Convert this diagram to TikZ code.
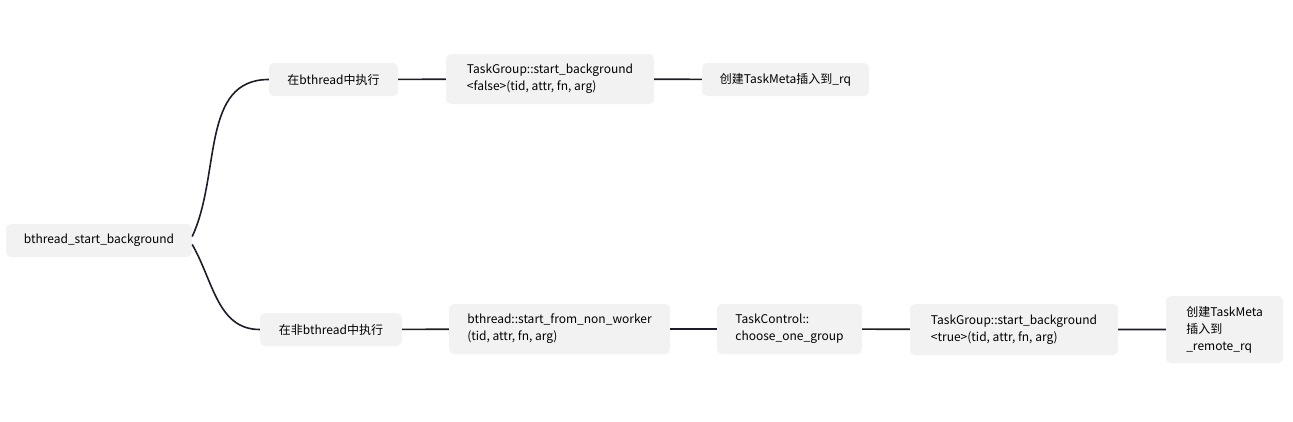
\documentclass[tikz,border=0pt]{standalone}
\usepackage{fontspec}
\setmainfont{Noto Sans CJK SC}
\usepackage{xcolor}
\usepackage{tikz}
\usetikzlibrary{
  positioning,
  calc
}
\definecolor{boxgray}{HTML}{F2F2F2}
\definecolor{linedark}{HTML}{1E1C2A}

\begin{document}
\begin{tikzpicture}[x=1pt, y=-1pt,
    topic/.style={fill=boxgray, rounded corners=5pt, align=left, inner sep=0pt,
      minimum height=33pt, font=\fontsize{12}{17}\selectfont},
    link/.style={draw=linedark, line width=1.6pt}]
      \useasboundingbox (0,0) rectangle (1293,421);

      % Root
      \node[topic, minimum width=186pt] (root) at (99,240.5) {bthread\_start\_background};

      % Branch 1 - inside a bthread
      \node[topic, minimum width=129pt] (inbt) at (333.5,79.5) {在bthread中执行};
      \node[topic, minimum width=208pt, minimum height=50pt] (tgfalse) at (550,79) {TaskGroup::start\_background\\<false>(tid, attr, fn, arg)};
      \node[topic, minimum width=167pt] (rq) at (785.5,79.5) {创建TaskMeta插入到\_rq};

      % Branch 2 - outside a bthread
      \node[topic, minimum width=142pt] (notbt) at (331,329.5) {在非bthread中执行};
      \node[topic, minimum width=221pt, minimum height=50pt] (nonworker) at (559.5,329) {bthread::start\_from\_non\_worker\\(tid, attr, fn, arg)};
      \node[topic, minimum width=145pt, minimum height=50pt] (choose) at (789.5,329) {TaskControl::\\choose\_one\_group};
      \node[topic, minimum width=208pt, minimum height=51pt] (tgtrue) at (1014,329.5) {TaskGroup::start\_background\\<true>(tid, attr, fn, arg)};
      \node[topic, minimum width=117pt, minimum height=67pt] (remoterq) at (1224.5,329.5) {创建TaskMeta\\插入到\\\_remote\_rq};

      % Connectors
      \draw[link] ([yshift=4pt]root.east) to[out=65, in=180] (inbt.west);
      \draw[link] ([yshift=-4pt]root.east) to[out=-60, in=180] (notbt.west);
      \draw[link] (inbt) -- (tgfalse) -- (rq);
      \draw[link] (notbt) -- (nonworker) -- (choose) -- (tgtrue) -- (remoterq);
    \end{tikzpicture}
\end{document}
